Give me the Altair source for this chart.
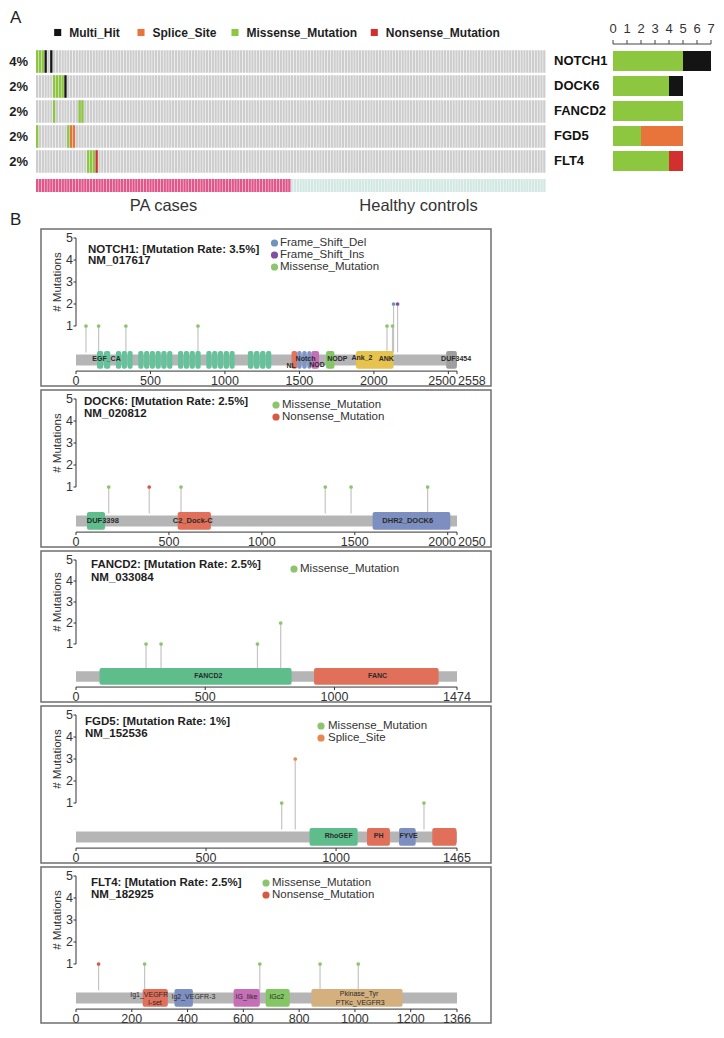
import altair as alt
import pandas as pd

FONT = "Liberation Sans"
INK = "#1e1e1e"

# ===================== Panel A data =====================
genes = ["NOTCH1", "DOCK6", "FANCD2", "FGD5", "FLT4"]
gene_freq = ["4%", "2%", "2%", "2%", "2%"]
n_pa_cases = 90
n_healthy_controls = 90
group_names = ["PA cases", "Healthy controls"]

mut_types = ["Multi_Hit", "Splice_Site", "Missense_Mutation", "Nonsense_Mutation"]
mut_colors = ["#141414", "#e8743b", "#8dc63f", "#d2302f"]

hit_gene = ["NOTCH1"] * 5 + ["DOCK6"] * 5 + ["FANCD2"] * 3 + ["FGD5"] * 4 + ["FLT4"] * 4
hit_sample = [0, 1, 2, 3, 5, 6, 7, 8, 9, 10, 6, 15, 16, 0, 11, 12, 13, 18, 19, 20, 21]
hit_type = (["Missense_Mutation"] * 3 + ["Multi_Hit"] * 2
            + ["Missense_Mutation"] * 4 + ["Multi_Hit"]
            + ["Missense_Mutation"] * 3
            + ["Missense_Mutation"] * 2 + ["Splice_Site"] * 2
            + ["Missense_Mutation"] * 3 + ["Nonsense_Mutation"])

bar_missense = [5, 4, 5, 2, 4]
bar_multi_hit = [2, 1, 0, 0, 0]
bar_splice_site = [0, 0, 0, 3, 0]
bar_nonsense = [0, 0, 0, 0, 1]
bar_ticks = [0, 1, 2, 3, 4, 5, 6, 7]

# ===================== Panel B data =====================
notch1_pos = [67, 152, 335, 819, 2088, 2125, 2132, 2159]
notch1_count = [1, 1, 1, 1, 1, 1, 2, 2]
notch1_type = ["Missense_Mutation"] * 6 + ["Frame_Shift_Del", "Frame_Shift_Ins"]
notch1_dom_start = [141, 188, 268, 307, 346, 418, 457, 496, 534, 573, 612, 685, 724, 763, 802,
                    875, 914, 953, 992, 1031, 1154, 1195, 1236, 1276, 1447, 1485, 1519, 1553,
                    1580, 1679, 1880, 2485]
notch1_dom_end = [183, 230, 303, 342, 380, 453, 492, 530, 569, 608, 647, 720, 759, 798, 837,
                  910, 949, 988, 1027, 1065, 1191, 1232, 1272, 1311, 1485, 1515, 1549, 1580,
                  1632, 1735, 2132, 2557]
notch1_dom_name = ["EGF_CA"] * 24 + ["NL", "Notch", "Notch", "Notch", "NOD", "NODP", "Ank_2", "DUF3454"]
notch1_lab_text = ["EGF_CA", "NL", "Notch", "NOD", "NODP", "Ank_2", "ANK", "DUF3454"]
notch1_lab_pos = [205, 1445, 1541, 1618, 1755, 1920, 2083, 2552]
notch1_lab_level = [-0.5, -0.82, -0.5, -0.75, -0.5, -0.45, -0.5, -0.5]
notch1_ticks = [0, 500, 1000, 1500, 2000, 2500, 2558]

dock6_pos = [176, 394, 565, 1341, 1480, 1892]
dock6_count = [1, 1, 1, 1, 1, 1]
dock6_type = ["Missense_Mutation", "Nonsense_Mutation"] + ["Missense_Mutation"] * 4
dock6_dom_start = [59, 547, 1596]
dock6_dom_end = [156, 726, 2014]
dock6_dom_name = ["DUF3398", "C2_Dock-C", "DHR2_DOCK6"]
dock6_lab_text = ["DUF3398", "C2_Dock-C", "DHR2_DOCK6"]
dock6_lab_pos = [144, 628, 1785]
dock6_lab_level = [-0.55, -0.55, -0.55]
dock6_ticks = [0, 500, 1000, 1500, 2000, 2050]

fancd2_pos = [271, 329, 702, 792]
fancd2_count = [1, 1, 1, 2]
fancd2_type = ["Missense_Mutation"] * 4
fancd2_dom_start = [91, 921]
fancd2_dom_end = [834, 1403]
fancd2_dom_name = ["FANCD2", "FANC"]
fancd2_lab_text = ["FANCD2", "FANC"]
fancd2_lab_pos = [512, 1167]
fancd2_lab_level = [-0.52, -0.52]
fancd2_ticks = [0, 500, 1000, 1474]

fgd5_pos = [791, 843, 1338]
fgd5_count = [1, 3, 1]
fgd5_type = ["Missense_Mutation", "Splice_Site", "Missense_Mutation"]
fgd5_dom_start = [898, 1119, 1242, 1370]
fgd5_dom_end = [1083, 1207, 1306, 1463]
fgd5_dom_name = ["RhoGEF", "PH", "FYVE", "FGD5_C"]
fgd5_lab_text = ["RhoGEF", "PH", "FYVE"]
fgd5_lab_pos = [1010, 1164, 1279]
fgd5_lab_level = [-0.48, -0.48, -0.48]
fgd5_ticks = [0, 500, 1000, 1465]

flt4_pos = [81, 246, 659, 875, 1012]
flt4_count = [1, 1, 1, 1, 1]
flt4_type = ["Nonsense_Mutation"] + ["Missense_Mutation"] * 4
flt4_dom_start = [239, 353, 565, 680, 844]
flt4_dom_end = [329, 419, 659, 766, 1171]
flt4_dom_name = ["I-set", "Ig2_VEGFR-3", "IG_like", "IGc2", "Pkinase_Tyr"]
flt4_lab_text = ["Ig1_VEGFR", "I-set", "Ig2_VEGFR-3", "IG_like", "IGc2", "Pkinase_Tyr", "PTKc_VEGFR3"]
flt4_lab_pos = [262, 283, 421, 611, 720, 1015, 1019]
flt4_lab_level = [-0.4, -0.76, -0.52, -0.52, -0.52, -0.36, -0.76]
flt4_ticks = [0, 200, 400, 600, 800, 1000, 1200, 1366]

# ===================== styles =====================
domain_colors = {
    "EGF_CA": "#66c29b", "NL": "#e2735d", "Notch": "#7f95c6", "NOD": "#c76fb6",
    "NODP": "#84c564", "Ank_2": "#e6c24f", "DUF3454": "#9e9e9e",
    "DUF3398": "#5fbd8c", "C2_Dock-C": "#e0705a", "DHR2_DOCK6": "#7d8fc0",
    "FANCD2": "#5fbd8c", "FANC": "#e0705a",
    "RhoGEF": "#5fbd8c", "PH": "#e0705a", "FYVE": "#7d8fc0", "FGD5_C": "#e0705a",
    "I-set": "#e0705a", "Ig2_VEGFR-3": "#7d8fc0", "IG_like": "#c76fb6", "IGc2": "#84c564",
    "Pkinase_Tyr": "#d4b07e",
}
lolli_colors = {
    "Missense_Mutation": "#8cc56c", "Nonsense_Mutation": "#d65a43",
    "Frame_Shift_Del": "#6f93ba", "Frame_Shift_Ins": "#7f4fa0", "Splice_Site": "#e8874f",
}

# ===================== Oncoplot + bars (A) =====================
N = n_pa_cases + n_healthy_controls
GRID_LEFT = 35.0
PLOT_LEFT = 40.0
PLOT_RIGHT = 545.0
ONC_TOP = 45.0
ONC_W = PLOT_RIGHT - PLOT_LEFT
ONC_H = 176
ROW = 25.0
ONC_ROWS = ONC_H / ROW
col_px = (PLOT_RIGHT - GRID_LEFT) / N

BAR_X0 = 612.0
BAR_PX = 14.0


def sx(page_x):
    return (page_x - GRID_LEFT) / col_px


def ry(page_y):
    return (page_y - ONC_TOP) / ROW


def bx(page_x):
    return (page_x - BAR_X0) / BAR_PX


ONC_XDOM = [sx(PLOT_LEFT), sx(PLOT_RIGHT)]
BAR_XDOM = [bx(PLOT_LEFT), bx(PLOT_RIGHT)]


def ox(f):
    return alt.X(f + ":Q", scale=alt.Scale(domain=ONC_XDOM, nice=False, zero=False), axis=None)


def bxe(f):
    return alt.X(f + ":Q", scale=alt.Scale(domain=BAR_XDOM, nice=False, zero=False), axis=None)


def oy(f):
    return alt.Y(f + ":Q", scale=alt.Scale(domain=[0, ONC_ROWS], reverse=True, nice=False, zero=False), axis=None)


type_color = dict(zip(mut_types, mut_colors))
cells = []
for r, g in enumerate(genes):
    for s in range(N):
        cells.append({"s": s, "s2": s + 0.8, "r": r + 0.05, "r2": r + 0.95, "col": "#cdcdcd"})
hits = []
for g, s, t in zip(hit_gene, hit_sample, hit_type):
    r = genes.index(g)
    hits.append({"s": s, "s2": s + 0.8, "r": r + 0.05, "r2": r + 0.95, "col": type_color[t]})
annot = []
for s in range(N):
    annot.append({"s": s, "s2": s + 0.85, "r": ry(175), "r2": ry(188),
                  "col": "#e0578b" if s < n_pa_cases else "#d3e8e3"})


def rect_layer(rows):
    return alt.Chart(pd.DataFrame(rows)).mark_rect().encode(
        x=ox("s"), x2=alt.X2("s2"), y=oy("r"), y2=alt.Y2("r2"),
        color=alt.Color("col:N", scale=None))


pct_df = pd.DataFrame({"x": [sx(27)] * len(genes), "y": [r + 0.5 for r in range(len(genes))], "t": gene_freq})
pct_layer = alt.Chart(pct_df).mark_text(align="right", baseline="middle", fontSize=13, fontWeight="bold",
                                        color=INK).encode(x=ox("x"), y=oy("y"), text="t:N")

leg_sq_px = [56.7, 140, 234, 373.3]
leg_df = pd.DataFrame({"x": [sx(p) for p in leg_sq_px], "tx": [sx(p + 11.5) for p in leg_sq_px],
                       "y": [ry(28.5)] * 4, "t": mut_types, "col": mut_colors})
leg_sq = alt.Chart(leg_df).mark_square(size=50, opacity=1).encode(
    x=ox("x"), y=oy("y"), color=alt.Color("col:N", scale=None))
leg_tx = alt.Chart(leg_df).mark_text(align="left", baseline="middle", fontSize=12, fontWeight="bold",
                                     color=INK).encode(x=ox("tx"), y=oy("y"), text="t:N")

grp_df = pd.DataFrame({"x": [n_pa_cases / 2.0, n_pa_cases + n_healthy_controls / 2.0],
                       "y": [ry(202)] * 2, "t": group_names})
grp_layer = alt.Chart(grp_df).mark_text(align="center", baseline="middle", fontSize=16.5,
                                        color="#333333").encode(x=ox("x"), y=oy("y"), text="t:N")

letters_df = pd.DataFrame({"x": [sx(9), sx(9)], "y": [ry(6), ry(208)], "t": ["A", "B"]})
letters = alt.Chart(letters_df).mark_text(align="left", baseline="top", fontSize=17,
                                          color=INK).encode(x=ox("x"), y=oy("y"), text="t:N")

bar_rows = []
for r, g in enumerate(genes):
    start = 0
    for t, arr in [("Missense_Mutation", bar_missense), ("Multi_Hit", bar_multi_hit),
                   ("Splice_Site", bar_splice_site), ("Nonsense_Mutation", bar_nonsense)]:
        v = arr[r]
        if v > 0:
            bar_rows.append({"x0": start, "x1": start + v, "y0": r + 0.08, "y1": r + 0.88,
                             "col": type_color[t]})
            start += v
bar_layer = alt.Chart(pd.DataFrame(bar_rows)).mark_rect().encode(
    x=bxe("x0"), x2=alt.X2("x1"), y=oy("y0"), y2=alt.Y2("y1"), color=alt.Color("col:N", scale=None))

AX_Y = ry(40)
bar_axis_df = pd.DataFrame({"x": [0], "x2": [max(bar_ticks)], "y": [AX_Y]})
bar_axis = alt.Chart(bar_axis_df).mark_rule(color="#444444", strokeWidth=1).encode(
    x=bxe("x"), x2=alt.X2("x2"), y=oy("y"))
bar_tick_df = pd.DataFrame({"x": bar_ticks, "y": [AX_Y] * len(bar_ticks),
                            "y2": [AX_Y - 4 / ROW] * len(bar_ticks), "t": [str(v) for v in bar_ticks]})
bar_tick = alt.Chart(bar_tick_df).mark_rule(color="#444444", strokeWidth=1).encode(
    x=bxe("x"), y=oy("y"), y2=alt.Y2("y2"))
bar_tick_lab = alt.Chart(bar_tick_df.assign(yl=ry(24.5))).mark_text(
    fontSize=13, color="#333333", align="center", baseline="middle").encode(
    x=bxe("x"), y=oy("yl"), text="t:N")
gene_lab_df = pd.DataFrame({"x": [bx(553)] * len(genes), "y": [r + 0.48 for r in range(len(genes))], "t": genes})
gene_lab = alt.Chart(gene_lab_df).mark_text(fontSize=13, fontWeight="bold", color="#111111", align="left",
                                            baseline="middle").encode(x=bxe("x"), y=oy("y"), text="t:N")

top = alt.layer(rect_layer(cells), rect_layer(hits), rect_layer(annot), pct_layer,
                leg_sq, leg_tx, grp_layer, letters,
                bar_layer, bar_axis, bar_tick, bar_tick_lab, gene_lab).resolve_scale(
    x="independent").properties(width=ONC_W, height=ONC_H)

# ===================== lollipop panels (B) =====================
panels_spec = [
    dict(gene="NOTCH1", rate="3.5%", refseq="NM_017617", length=2558, pos=notch1_pos, count=notch1_count,
         types=notch1_type, ds=notch1_dom_start, de=notch1_dom_end, dn=notch1_dom_name,
         lt=notch1_lab_text, lp=notch1_lab_pos, ll=notch1_lab_level, ticks=notch1_ticks,
         legend=["Frame_Shift_Del", "Frame_Shift_Ins", "Missense_Mutation"],
         H=157, u=22, tx=47, ty=[21, 32], lcx=233.5, ltx=239, ly=[14, 26, 38], lfs=7, lfw="bold"),
    dict(gene="DOCK6", rate="2.5%", refseq="NM_020812", length=2050, pos=dock6_pos, count=dock6_count,
         types=dock6_type, ds=dock6_dom_start, de=dock6_dom_end, dn=dock6_dom_name,
         lt=dock6_lab_text, lp=dock6_lab_pos, ll=dock6_lab_level, ticks=dock6_ticks,
         legend=["Missense_Mutation", "Nonsense_Mutation"],
         H=157, u=22, tx=43, ty=[12, 24], lcx=235, ltx=241, ly=[15, 27], lfs=7.5, lfw="bold"),
    dict(gene="FANCD2", rate="2.5%", refseq="NM_033084", length=1474, pos=fancd2_pos, count=fancd2_count,
         types=fancd2_type, ds=fancd2_dom_start, de=fancd2_dom_end, dn=fancd2_dom_name,
         lt=fancd2_lab_text, lp=fancd2_lab_pos, ll=fancd2_lab_level, ticks=fancd2_ticks,
         legend=["Missense_Mutation"],
         H=151, u=21, tx=50, ty=[14, 27], lcx=253, ltx=259, ly=[18], lfs=7, lfw="bold"),
    dict(gene="FGD5", rate="1%", refseq="NM_152536", length=1465, pos=fgd5_pos, count=fgd5_count,
         types=fgd5_type, ds=fgd5_dom_start, de=fgd5_dom_end, dn=fgd5_dom_name,
         lt=fgd5_lab_text, lp=fgd5_lab_pos, ll=fgd5_lab_level, ticks=fgd5_ticks,
         legend=["Missense_Mutation", "Splice_Site"],
         H=157, u=22, tx=44, ty=[16, 28], lcx=280, ltx=287, ly=[20, 32], lfs=7, lfw="bold"),
    dict(gene="FLT4", rate="2.5%", refseq="NM_182925", length=1366, pos=flt4_pos, count=flt4_count,
         types=flt4_type, ds=flt4_dom_start, de=flt4_dom_end, dn=flt4_dom_name,
         lt=flt4_lab_text, lp=flt4_lab_pos, ll=flt4_lab_level, ticks=flt4_ticks,
         legend=["Missense_Mutation", "Nonsense_Mutation"],
         H=156, u=22, tx=50, ty=[16, 28], lcx=225, ltx=231, ly=[16, 28], lfs=7, lfw="normal"),
]

PW = 450
X0PX, XLPX = 35.0, 416.0
T5 = 9.0


def make_panel(p):
    L = p["length"]
    H = p["H"]
    u = float(p["u"])
    k = L / (XLPX - X0PX)
    xdom = [-X0PX * k, (PW - X0PX) * k]
    yhi = 5 + T5 / u
    ylo = yhi - H / u

    def ax(px):
        return (px - X0PX) * k

    def vy(py):
        return yhi - py / u

    def X(f):
        return alt.X(f + ":Q", scale=alt.Scale(domain=xdom, nice=False, zero=False), axis=None)

    def Y(f):
        return alt.Y(f + ":Q", scale=alt.Scale(domain=[ylo, yhi], nice=False, zero=False), axis=None)

    ya = -1.05
    layers = []
    stem_df = pd.DataFrame({"x": p["pos"], "y": [-0.2] * len(p["pos"]), "y2": p["count"]})
    layers.append(alt.Chart(stem_df).mark_rule(color="#c4c4c4", strokeWidth=1.2).encode(
        x=X("x"), y=Y("y"), y2=alt.Y2("y2")))
    bb_df = pd.DataFrame({"x": [0], "x2": [L], "y": [-0.3], "y2": [-0.8]})
    layers.append(alt.Chart(bb_df).mark_rect(color="#b5b5b5").encode(
        x=X("x"), x2=alt.X2("x2"), y=Y("y"), y2=alt.Y2("y2")))
    dom_df = pd.DataFrame({"x": p["ds"], "x2": p["de"], "y": [-0.14] * len(p["ds"]),
                           "y2": [-0.94] * len(p["ds"]), "col": [domain_colors[n] for n in p["dn"]]})
    layers.append(alt.Chart(dom_df).mark_rect(cornerRadius=2).encode(
        x=X("x"), x2=alt.X2("x2"), y=Y("y"), y2=alt.Y2("y2"), color=alt.Color("col:N", scale=None)))
    lab_df = pd.DataFrame({"x": p["lp"], "y": p["ll"], "t": p["lt"]})
    layers.append(alt.Chart(lab_df).mark_text(fontSize=p["lfs"], fontWeight=p["lfw"], color="#2a2a2a",
                                              align="center", baseline="middle").encode(
        x=X("x"), y=Y("y"), text="t:N"))
    head_df = pd.DataFrame({"x": p["pos"], "y": p["count"], "col": [lolli_colors[t] for t in p["types"]]})
    layers.append(alt.Chart(head_df).mark_circle(size=14, opacity=1).encode(
        x=X("x"), y=Y("y"), color=alt.Color("col:N", scale=None)))
    xa_df = pd.DataFrame({"x": [0], "x2": [L], "y": [ya]})
    layers.append(alt.Chart(xa_df).mark_rule(color="#333333", strokeWidth=1).encode(
        x=X("x"), x2=alt.X2("x2"), y=Y("y")))
    tk = p["ticks"]
    xt_df = pd.DataFrame({"x": tk, "y": [ya] * len(tk), "y2": [ya - 3 / u] * len(tk)})
    layers.append(alt.Chart(xt_df).mark_rule(color="#333333", strokeWidth=1).encode(
        x=X("x"), y=Y("y"), y2=alt.Y2("y2")))
    close = (tk[-1] - tk[-2]) < 0.06 * L
    main_ticks = tk[:-2] if close else tk
    lab_y = ya - 9.5 / u
    tl_df = pd.DataFrame({"x": main_ticks, "y": [lab_y] * len(main_ticks), "t": [str(v) for v in main_ticks]})
    layers.append(alt.Chart(tl_df).mark_text(fontSize=12.5, color="#333333", align="center",
                                             baseline="middle").encode(x=X("x"), y=Y("y"), text="t:N"))
    if close:
        a_df = pd.DataFrame({"x": [L], "y": [lab_y], "t": [str(tk[-2])]})
        layers.append(alt.Chart(a_df).mark_text(fontSize=12.5, color="#333333", align="right", dx=-1,
                                                baseline="middle").encode(x=X("x"), y=Y("y"), text="t:N"))
        b_df = pd.DataFrame({"x": [L], "y": [lab_y], "t": [str(tk[-1])]})
        layers.append(alt.Chart(b_df).mark_text(fontSize=12.5, color="#333333", align="left", dx=1,
                                                baseline="middle").encode(x=X("x"), y=Y("y"), text="t:N"))
    yl_df = pd.DataFrame({"x": [0], "y": [1], "y2": [5]})
    layers.append(alt.Chart(yl_df).mark_rule(color="#333333", strokeWidth=1).encode(
        x=X("x"), y=Y("y"), y2=alt.Y2("y2")))
    yv = [1, 2, 3, 4, 5]
    yt_df = pd.DataFrame({"x": [0] * 5, "x2": [ax(X0PX - 2.5)] * 5, "y": yv})
    layers.append(alt.Chart(yt_df).mark_rule(color="#333333", strokeWidth=1).encode(
        x=X("x"), x2=alt.X2("x2"), y=Y("y")))
    ylab_df = pd.DataFrame({"x": [ax(X0PX - 3)] * 5, "y": yv, "t": [str(v) for v in yv]})
    layers.append(alt.Chart(ylab_df).mark_text(fontSize=12.5, color="#333333", align="right",
                                               baseline="middle").encode(x=X("x"), y=Y("y"), text="t:N"))
    ytitle_df = pd.DataFrame({"x": [ax(17)], "y": [3], "t": ["# Mutations"]})
    layers.append(alt.Chart(ytitle_df).mark_text(fontSize=11.5, color="#333333", angle=270, align="center",
                                                 baseline="middle").encode(x=X("x"), y=Y("y"), text="t:N"))
    title_df = pd.DataFrame({"x": [ax(p["tx"])] * 2, "y": [vy(p["ty"][0]), vy(p["ty"][1])],
                             "t": ["%s: [Mutation Rate: %s]" % (p["gene"], p["rate"]), p["refseq"]]})
    layers.append(alt.Chart(title_df).mark_text(fontSize=11.5, fontWeight="bold", color=INK, align="left",
                                                baseline="middle").encode(x=X("x"), y=Y("y"), text="t:N"))
    lg = p["legend"]
    lg_df = pd.DataFrame({"x": [ax(p["lcx"])] * len(lg), "tx": [ax(p["ltx"])] * len(lg),
                          "y": [vy(v) for v in p["ly"]], "t": lg, "col": [lolli_colors[t] for t in lg]})
    layers.append(alt.Chart(lg_df).mark_circle(size=52, opacity=1).encode(
        x=X("x"), y=Y("y"), color=alt.Color("col:N", scale=None)))
    layers.append(alt.Chart(lg_df).mark_text(fontSize=11.5, color="#333333", align="left",
                                             baseline="middle").encode(x=X("tx"), y=Y("y"), text="t:N"))
    return alt.layer(*layers).properties(
        width=PW, height=H, view=alt.ViewBackground(stroke="#6f6f6f", strokeWidth=1.5))


charts = [top] + [make_panel(p) for p in panels_spec]
chart = alt.vconcat(*charts, spacing=4, bounds="flush").properties(padding=0).configure(
    font=FONT).configure_view(stroke="transparent")

chart.save("out.html", embed_options={"renderer": "svg", "actions": False})
